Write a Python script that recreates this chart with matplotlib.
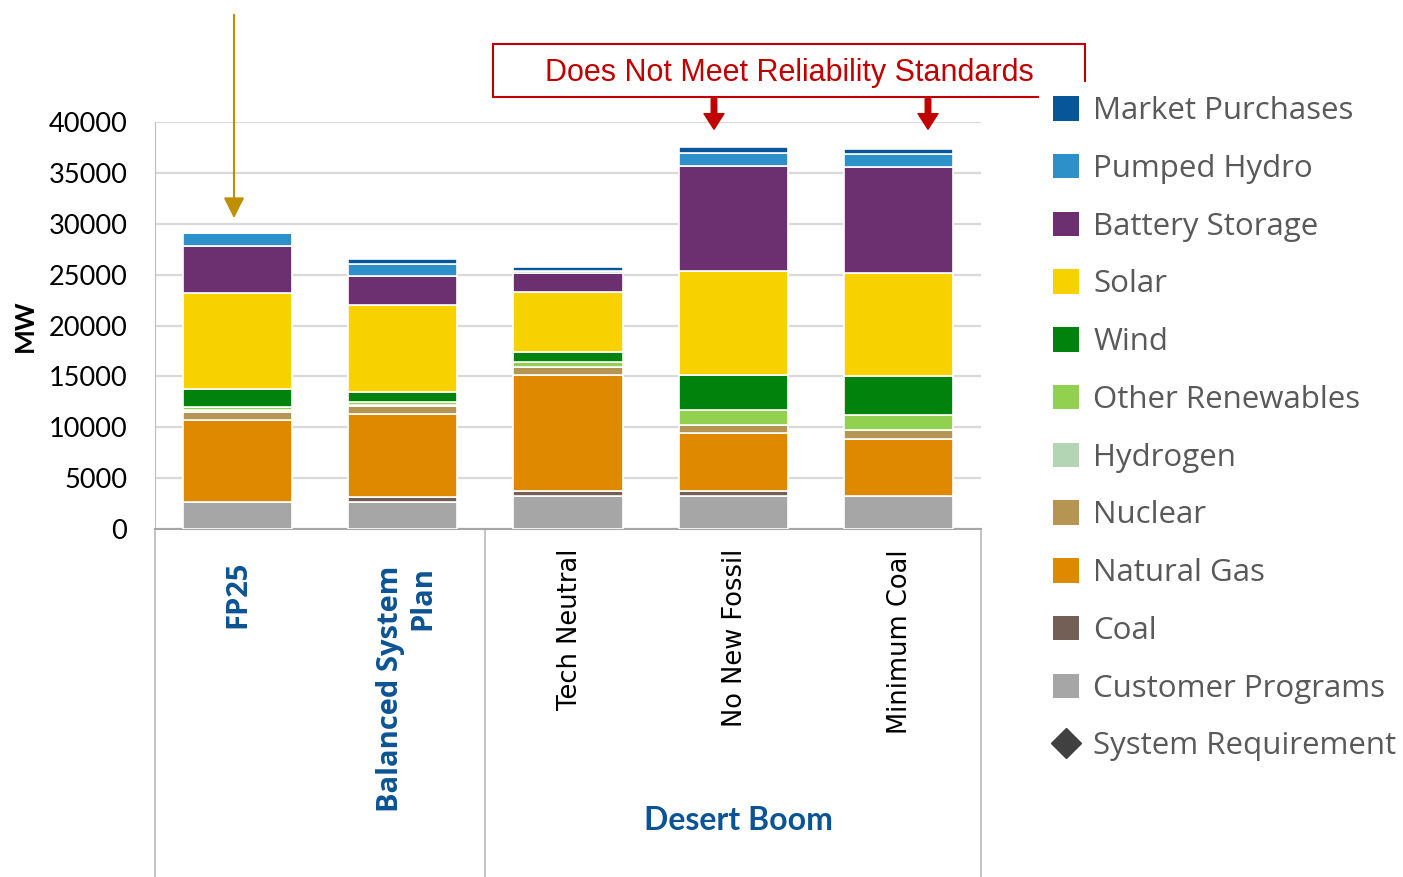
import numpy as np
import matplotlib
matplotlib.use('Agg')
import matplotlib.pyplot as plt
from matplotlib.patches import Patch, Rectangle
from matplotlib.lines import Line2D

# Scenarios (x axis)
scenarios = ['FP25', 'Balanced System\nPlan', 'Tech Neutral', 'No New Fossil', 'Minimum Coal']

# Capacity by resource (MW), bottom of the stack first
resources = ['Customer Programs', 'Coal', 'Natural Gas', 'Nuclear', 'Hydrogen',
             'Other Renewables', 'Wind', 'Solar', 'Battery Storage',
             'Pumped Hydro', 'Market Purchases']
customer_programs = [2700, 2700, 3250, 3250, 3250]
coal = [0, 470, 490, 490, 0]
natural_gas = [8000, 8100, 11430, 5710, 5610]
nuclear = [800, 780, 780, 750, 850]
hydrogen = [150, 150, 0, 0, 0]
other_renewables = [300, 280, 430, 1470, 1470]
wind = [1850, 980, 1020, 3430, 3820]
solar = [9400, 8590, 5870, 10260, 10200]
battery_storage = [4650, 2840, 1860, 10290, 10390]
pumped_hydro = [1200, 1110, 200, 1310, 1270]
market_purchases = [0, 560, 450, 580, 530]

series = [customer_programs, coal, natural_gas, nuclear, hydrogen, other_renewables,
          wind, solar, battery_storage, pumped_hydro, market_purchases]
colors = ['#A6A6A6', '#735F55', '#DF8900', '#B69552', '#B3D5B3', '#92D050',
          '#00820D', '#F7D100', '#6C3070', '#2E90C8', '#07569A']

W, H = 1403, 877
fig = plt.figure(figsize=(W / 100, H / 100), dpi=100)
ax = fig.add_axes([155 / W, 1 - 529 / H, 826 / W, 407 / H])

x = np.arange(len(scenarios))
bottom = np.zeros(len(scenarios))
for vals, c in zip(series, colors):
    ax.bar(x, vals, 0.66, bottom=bottom, color=c, edgecolor='white', linewidth=1.2, zorder=3)
    bottom += np.array(vals)

ax.set_xlim(-0.5, 4.5)
ax.set_ylim(0, 40000)
ax.set_yticks(np.arange(0, 40001, 5000))
ax.set_xticks([])
ax.tick_params(axis='y', length=0, pad=20, labelsize=19.5, labelcolor='black')
for lab in ax.get_yticklabels():
    lab.set_fontfamily('Lato')
ax.yaxis.grid(True, color='#D9D9D9', linewidth=1.6, zorder=0)
ax.set_axisbelow(True)
for s in ['top', 'right']:
    ax.spines[s].set_visible(False)
ax.spines['left'].set_color('#BFBFBF')
ax.spines['bottom'].set_color('#A6A6A6')
ax.spines['bottom'].set_linewidth(1.5)

# category separators below the axis
xt = ax.get_xaxis_transform()
for xs in [-0.5, 1.5, 4.5]:
    ax.plot([xs, xs], [0, -0.9], transform=xt, color='#BFBFBF', lw=1.3, clip_on=False)

fig.text(25 / W, 1 - 326 / H, 'MW', rotation=90, ha='center', va='center',
         fontsize=19, fontweight='bold', family='Lato')

# scenario labels
blue = '#0B5394'
ax.text(0, (529 - 561) / 407, scenarios[0], transform=xt, rotation=90, ha='center', va='top',
        fontsize=21, fontweight='bold', color=blue, family='Open Sans')
ax.text(1.022, (529 - 566) / 407, scenarios[1], transform=xt, rotation=90, ha='center', va='top',
        multialignment='right', linespacing=1.15,
        fontsize=21, fontweight='bold', color=blue, family='Open Sans')
for i in [2, 3, 4]:
    ax.text(i + 0.01, (529 - 549) / 407, scenarios[i], transform=xt, rotation=90, ha='center',
            va='top', fontsize=18.5, color='black', family='DejaVu Sans')
ax.text(3.03, (529 - 820) / 407, 'Desert Boom', transform=xt, ha='center', va='center',
        fontsize=23, fontweight='bold', color=blue, family='Lato')

# reliability box and arrows
red = '#C00000'
fig.patches.append(Rectangle((493 / W, 1 - 97 / H), 592 / W, 53 / H, transform=fig.transFigure,
                             fill=False, edgecolor=red, linewidth=1.5, zorder=1))
fig.text(789 / W, 1 - 73 / H, 'Does Not Meet Reliability Standards', ha='center', va='center',
         fontsize=22, color=red, family='Liberation Sans')
for xa in [714, 928]:
    fig.add_artist(matplotlib.patches.FancyArrowPatch(
        (xa / W, 1 - 96 / H), (xa / W, 1 - 132 / H), transform=fig.transFigure,
        arrowstyle='simple,head_width=0.9,tail_width=0.25,head_length=0.7',
        mutation_scale=16, color=red, zorder=2))

fig.add_artist(matplotlib.patches.FancyArrowPatch(
    (234 / W, 1 - 12 / H), (234 / W, 1 - 221 / H), transform=fig.transFigure,
    arrowstyle='-|>,head_width=0.35,head_length=0.7', mutation_scale=18,
    color='#BF8F00', lw=1.5, zorder=2))

# legend
handles = [Patch(facecolor=c, edgecolor='none') for c in colors[::-1]]
labels = resources[::-1]
handles.append(Line2D([], [], marker='D', color='#404040', linestyle='none', markersize=15))
labels.append('System Requirement')
leg = fig.legend(handles, labels, loc='upper left', bbox_to_anchor=(1039 / W, 1 - 82 / H),
                 bbox_transform=fig.transFigure, frameon=True, facecolor='white',
                 edgecolor='none', framealpha=1, fancybox=False,
                 prop={'family': 'Open Sans', 'size': 22.5}, labelcolor='#595959',
                 handlelength=0.83, handleheight=0.83, handletextpad=0.45,
                 labelspacing=0.885, borderpad=0.45, borderaxespad=0)
leg.set_zorder(5)

fig.savefig('out.png', dpi=100)
